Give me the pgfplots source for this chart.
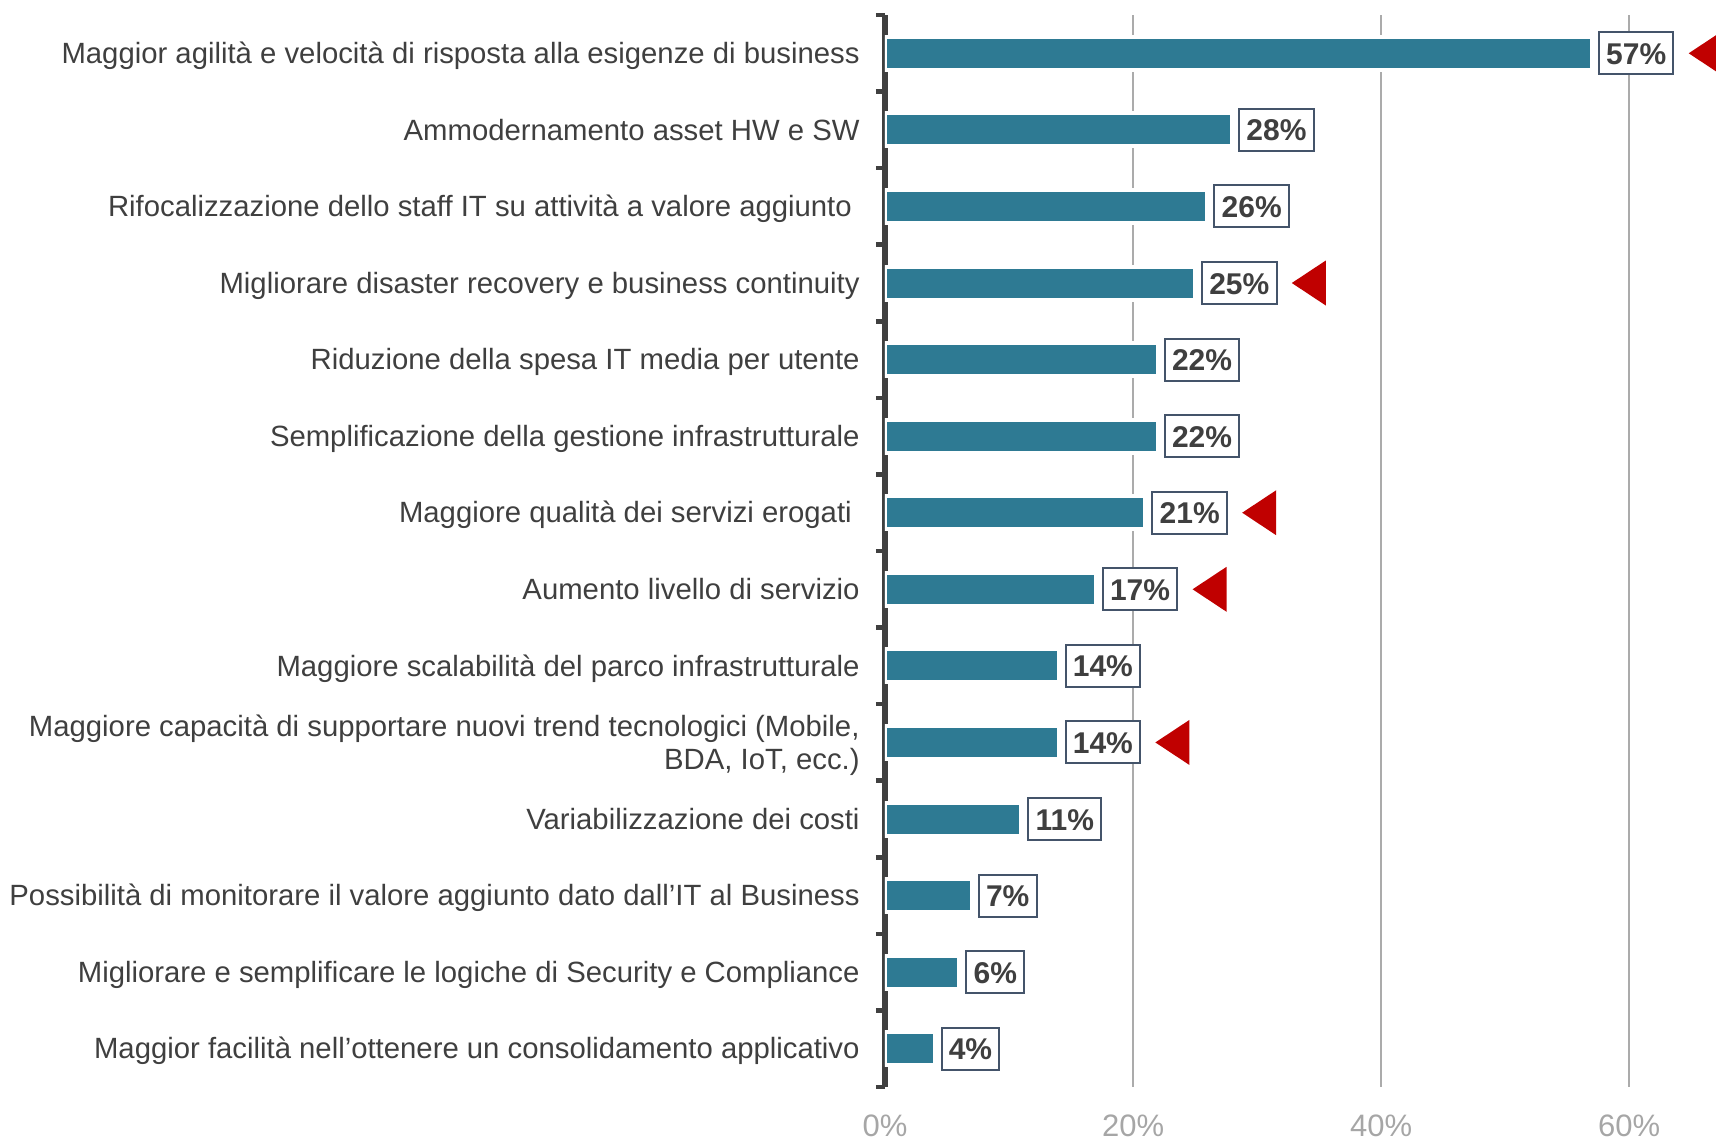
\documentclass[border=0pt]{standalone}
\usepackage{fontspec}
\setmainfont{Liberation Sans}
\usepackage{pgfplots}
\pgfplotsset{compat=1.18}
\definecolor{barcol}{HTML}{2E7A93}
\definecolor{axcol}{HTML}{404040}
\definecolor{txtcol}{HTML}{3F3F3F}
\definecolor{boxcol}{HTML}{44546A}
\definecolor{gridcol}{HTML}{ABABAB}
\definecolor{tickcol}{HTML}{A6A6A6}
\definecolor{redcol}{HTML}{C00000}
\newcommand\ls{\rule[-2.8pt]{0pt}{16pt}}
\pgfdeclareplotmark{ltri}{%
  \pgfpathmoveto{\pgfpoint{0pt}{0pt}}%
  \pgfpathlineto{\pgfpoint{17pt}{11.25pt}}%
  \pgfpathlineto{\pgfpoint{17pt}{-11.25pt}}%
  \pgfpathclose\pgfusepathqfill}
\begin{document}
\begin{tikzpicture}
\useasboundingbox (-442.5pt,-26.5pt) rectangle (415.5pt,543.5pt);
\begin{axis}[
  at={(0pt,0pt)}, anchor=south west,
  scale only axis, width=415.5pt, height=536pt,
  xmin=0, xmax=67, ymin=-0.5, ymax=13.5, y dir=reverse,
  /pgf/number format/assume math mode=true,
  bar width=16.5pt,
  axis x line*=bottom, axis y line*=left,
  x axis line style={draw=none},
  y axis line style={-, line width=3.3pt, color=axcol},
  tick align=outside, major tick length=0pt, minor tick length=4.5pt,
  major x tick style={draw=none},
  major y tick style={draw=none},
  minor y tick style={line width=2.3pt, color=axcol},
  xtick={0,20,40,60}, xticklabels={0\%,20\%,40\%,60\%},
  xmajorgrids, major x grid style={color=gridcol, line width=0.7pt},
  ytick={0,...,13}, minor ytick={-0.5,0.5,...,13.5},
  xticklabel style={text=tickcol, font=\fontsize{15.5}{15.5}\selectfont, inner sep=0pt, anchor=north, yshift=-13.5pt},
  yticklabel style={font=\fontsize{14.65}{16.5}\selectfont, text=txtcol, anchor=east, inner sep=0pt, xshift=-12.5pt, align=right},
  yticklabels={
    {\ls Maggior agilità e velocità di risposta alla esigenze di business},
    {\ls Ammodernamento asset HW e SW},
    {\ls Rifocalizzazione dello staff IT su attività a valore aggiunto\hspace*{3.9pt}},
    {\ls Migliorare disaster recovery e business continuity},
    {\ls Riduzione della spesa IT media per utente},
    {\ls Semplificazione della gestione infrastrutturale},
    {\ls Maggiore qualità dei servizi erogati\hspace*{3.9pt}},
    {\ls Aumento livello di servizio},
    {\ls Maggiore scalabilità del parco infrastrutturale},
    {\ls Maggiore capacità di supportare nuovi trend tecnologici (Mobile,\\\ls BDA, IoT, ecc.)},
    {\ls Variabilizzazione dei costi},
    {\ls Possibilità di monitorare il valore aggiunto dato dall’IT al Business},
    {\ls Migliorare e semplificare le logiche di Security e Compliance},
    {\ls Maggior facilità nell’ottenere un consolidamento applicativo}
  },
]
\addplot[xbar, fill=barcol, draw=white, line width=2pt,
  point meta=x,
  nodes near coords={\pgfmathprintnumber{\pgfplotspointmeta}\%},
  nodes near coords style={anchor=west, xshift=3pt, draw=boxcol, line width=1pt, fill=white,
    text=txtcol, font=\bfseries\fontsize{15}{15}\selectfont,
    inner xsep=3.6pt, inner ysep=5pt, text height=11pt, text depth=0pt}]
  coordinates {(57,0) (28,1) (26,2) (25,3) (22,4) (22,5) (21,6) (17,7) (14,8) (14,9) (11,10) (7,11) (6,12) (4,13)};
\addplot[only marks, mark=ltri, color=redcol]
  coordinates {(64.8,0) (32.8,3) (28.8,6) (24.8,7) (21.8,9)};
\end{axis}
\end{tikzpicture}
\end{document}
